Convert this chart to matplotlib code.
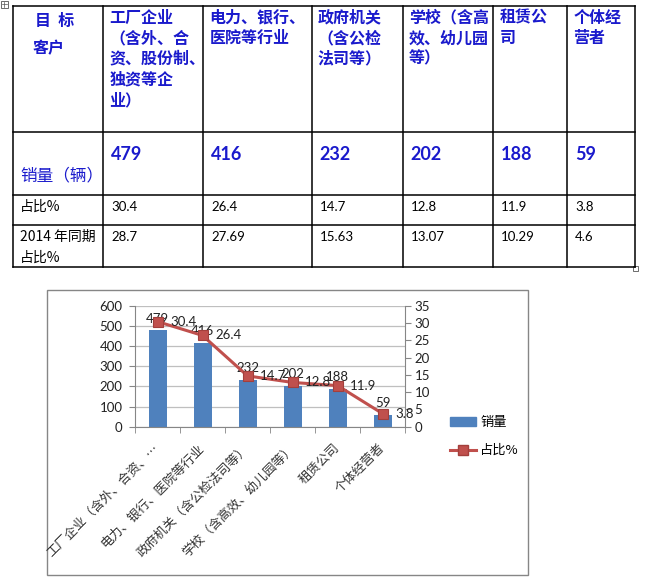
import matplotlib
matplotlib.use('Agg')
import matplotlib.pyplot as plt
from matplotlib.patches import Rectangle, Patch
from matplotlib.lines import Line2D
import numpy as np

plt.rcParams['font.family'] = ['Noto Sans CJK SC', 'DejaVu Sans']

# ---------------- data ----------------
categories = ["工厂企业（含外、合资、股份制、独资等企业）", "电力、银行、医院等行业",
              "政府机关（含公检法司等）", "学校（含高效、幼儿园等）", "租赁公司", "个体经营者"]
axis_labels = ["工厂企业（含外、合资、…", "电力、银行、医院等行业",
               "政府机关（含公检法司等）", "学校（含高效、幼儿园等）", "租赁公司", "个体经营者"]
header_lines = [["工厂企业", "（含外、合", "资、股份制、", "独资等企", "业）"],
                ["电力、银行、", "医院等行业"],
                ["政府机关", "（含公检", "法司等）"],
                ["学校（含高", "效、幼儿园", "等）"],
                ["租赁公", "司"],
                ["个体经", "营者"]]
sales = [479, 416, 232, 202, 188, 59]
share = [30.4, 26.4, 14.7, 12.8, 11.9, 3.8]
share_2014 = ["28.7", "27.69", "15.63", "13.07", "10.29", "4.6"]
sales_ticks = [0, 100, 200, 300, 400, 500, 600]
share_ticks = [0, 5, 10, 15, 20, 25, 30, 35]
series_names = ["销量", "占比%"]

W, H = 645, 584
fig = plt.figure(figsize=(W / 100, H / 100), dpi=100)

NUM = ['Lato', 'Noto Sans CJK SC', 'DejaVu Sans']
BLUE_TXT = '#1A1ACC'

# ---------------- background / table ----------------
bg = fig.add_axes([0, 0, 1, 1])
bg.set_xlim(0, W)
bg.set_ylim(H, 0)
bg.axis('off')

col_x = [12.5, 103.3, 203.3, 311.7, 402.7, 493.3, 567.3, 635]
row_y = [6, 131.7, 195, 225, 267]
for x in col_x:
    bg.plot([x, x], [row_y[0], row_y[-1]], color='black', lw=1.1)
for y in row_y:
    bg.plot([col_x[0], col_x[-1]], [y, y], color='black', lw=1.1)

# small handles
bg.add_patch(Rectangle((0.5, 0.5), 7, 7, fill=False, ec='#555555', lw=0.6))
bg.plot([4, 4], [1.5, 6.5], color='#555555', lw=0.5)
bg.plot([1.5, 6.5], [4, 4], color='#555555', lw=0.5)
bg.add_patch(Rectangle((633, 266), 5, 5, fill=False, ec='#555555', lw=0.6))

# header row
bg.text(35, 21, "目  标", color=BLUE_TXT, fontsize=11.5, fontweight='bold', va='center', ha='left')
bg.text(33, 48, "客户", color=BLUE_TXT, fontsize=11.5, fontweight='bold', va='center', ha='left')
for i, lines in enumerate(header_lines):
    for j, ln in enumerate(lines):
        bg.text(col_x[i + 1] + 6, 17.5 + 20.7 * j, ln, color=BLUE_TXT, fontsize=11.5,
                fontweight='bold', va='center', ha='left')

# sales row
bg.text(20, 176, "销量（辆）", color=BLUE_TXT, fontsize=12, va='center', ha='left')
for i, v in enumerate(sales):
    bg.text(col_x[i + 1] + 8, 154, str(v), color=BLUE_TXT, fontsize=13, fontweight='bold',
            family=NUM, va='center', ha='left')

# share row
bg.text(20, 207, "占比%", color='black', fontsize=10, va='center', ha='left')
for i, v in enumerate(share):
    bg.text(col_x[i + 1] + 8, 207, str(v), color='black', fontsize=9.5, family=NUM,
            va='center', ha='left')

# 2014 row
bg.text(20, 237, "2014 年同期", color='black', fontsize=10, va='center', ha='left')
bg.text(20, 258, "占比%", color='black', fontsize=10, va='center', ha='left')
for i, v in enumerate(share_2014):
    bg.text(col_x[i + 1] + 8, 237, v, color='black', fontsize=9.5, family=NUM,
            va='center', ha='left')

# chart border
bg.add_patch(Rectangle((47, 290), 481, 285, fill=False, ec='#868686', lw=1.0))

# ---------------- chart ----------------
left, right, top, bottom = 135, 405, 305.7, 426.7
ax = fig.add_axes([left / W, 1 - bottom / H, (right - left) / W, (bottom - top) / H])
x = np.arange(len(sales))
ax.bar(x, sales, width=0.4, color='#4F81BD', zorder=2)
ax.set_xlim(-0.5, len(sales) - 0.5)
ax.set_ylim(0, 600)
ax.set_yticks(sales_ticks)
ax.yaxis.grid(True, color='#BFBFBF', lw=0.9)
ax.set_axisbelow(True)
for s in ['top', 'right']:
    ax.spines[s].set_visible(False)
for s in ['left', 'bottom']:
    ax.spines[s].set_color('#868686')
ax.tick_params(axis='y', colors='#868686', length=4, pad=5, labelcolor='#222222', labelsize=9.5)
for lab in ax.get_yticklabels():
    lab.set_family(NUM)

ax.set_xticks(x)
ax.set_xticklabels(axis_labels, rotation=45, ha='right', va='center', rotation_mode='anchor',
                   fontsize=9.2, color='#333333')
ax.tick_params(axis='x', which='major', length=0, pad=14)
ax.set_xticks(np.arange(-0.5, len(sales)), minor=True)
ax.tick_params(axis='x', which='minor', length=4, color='#868686')

for i, v in enumerate(sales):
    ax.annotate(str(v), (i, v), xytext=(0, 4), textcoords='offset points', ha='center',
                va='bottom', fontsize=9.5, family=NUM, color='#222222', zorder=3)

ax2 = ax.twinx()
ax2.plot(x, share, color='#C0504D', lw=2.2, marker='s', ms=7.5, mfc='#C0504D',
         mec='#A33F3C', mew=0.8, zorder=4)
ax2.set_ylim(0, 35)
ax2.set_yticks(share_ticks)
for s in ['top', 'left', 'bottom']:
    ax2.spines[s].set_visible(False)
ax2.spines['right'].set_color('#868686')
ax2.tick_params(axis='y', colors='#868686', length=4, pad=3, labelcolor='#222222', labelsize=9.5)
for lab in ax2.get_yticklabels():
    lab.set_family(NUM)
for i, v in enumerate(share):
    ax2.annotate(str(v), (i, v), xytext=(9, 0), textcoords='offset points', ha='left',
                 va='center', fontsize=9.5, family=NUM, color='#222222', zorder=5)

handles = [Patch(color='#4F81BD'),
           Line2D([], [], color='#C0504D', lw=2.2, marker='s', ms=7.5, mfc='#C0504D', mec='#A33F3C')]
fig.legend(handles, series_names, loc='upper left', bbox_to_anchor=(450 / W, 1 - 416 / H),
           frameon=False, fontsize=9.5, handlelength=2.0, handleheight=0.6, handletextpad=0.3,
           labelspacing=1.15, borderpad=0, borderaxespad=0)

fig.savefig('out.png', dpi=100)
